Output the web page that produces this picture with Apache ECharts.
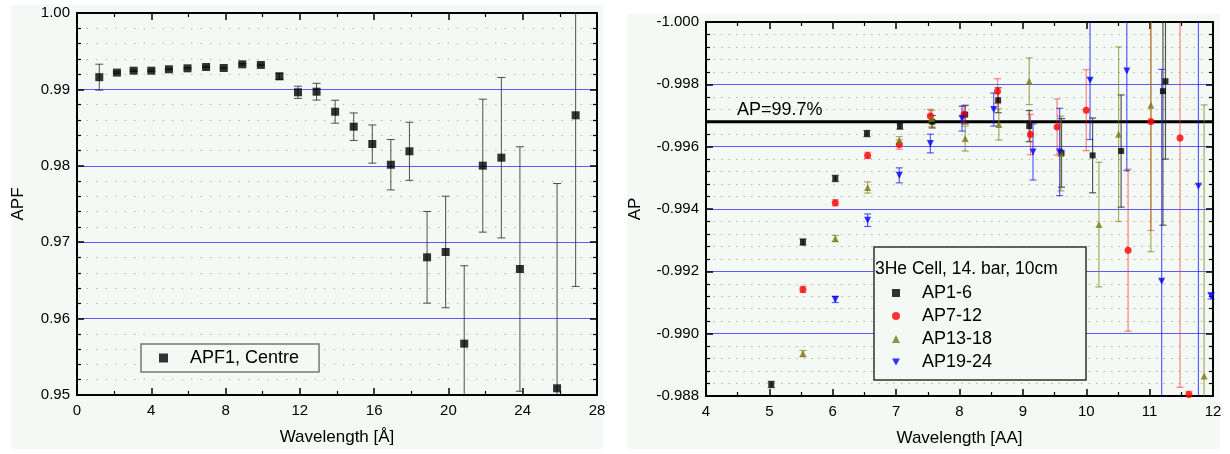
<!DOCTYPE html>
<html>
<head>
<meta charset="utf-8">
<script src="https://cdn.jsdelivr.net/npm/echarts@6/dist/echarts.min.js"></script>
<style>
html,body{margin:0;padding:0;background:#fff;}
#c{width:1230px;height:454px;}
</style>
</head>
<body>
<div id="c"></div>
<script>
// ---------- Left panel data: APF1, Centre ----------
const apfX = [1.2, 2.15, 3.05, 4.0, 4.95, 5.95, 6.95, 7.9, 8.9, 9.9, 10.9, 11.9, 12.9, 13.9, 14.9, 15.9, 16.9, 17.9, 18.85, 19.85, 20.85, 21.85, 22.85, 23.85, 25.85, 26.85];
const apfY = [0.9916, 0.9922, 0.99245, 0.99245, 0.99263, 0.99276, 0.99293, 0.9928, 0.99328, 0.9932, 0.99171, 0.98962, 0.9897, 0.98708, 0.98512, 0.98285, 0.98014, 0.9819, 0.96802, 0.96872, 0.95672, 0.98002, 0.98106, 0.96649, 0.95088, 0.98661];
const apfErr = [0.0017, 0.0001, 0.0001, 0.0001, 0.0001, 0.0001, 0.0001, 0.0001, 0.0001, 0.0001, 0.0004, 0.0008, 0.0011, 0.0015, 0.0018, 0.0025, 0.0033, 0.0038, 0.006, 0.0073, 0.0102, 0.0087, 0.0105, 0.016, 0.0268, 0.0224];

// ---------- Right panel data ----------
const ap1X = [5.03, 5.53, 6.04, 6.54, 7.06, 7.57, 8.09, 8.61, 9.1, 9.61, 10.1, 10.55, 11.21, 11.25];
const ap1Y = [-0.98837, -0.99294, -0.99498, -0.99642, -0.99666, -0.9968, -0.99703, -0.99749, -0.99666, -0.9958, -0.99572, -0.99586, -0.99778, -0.9981];
const ap1Err = [0.0001, 0.0001, 0.0001, 0.0001, 0.0001, 0.0002, 0.0003, 0.0004, 0.0005, 0.0011, 0.0012, 0.0018, 0.0043, 0.0025];

const ap7X = [5.53, 6.04, 6.55, 7.05, 7.54, 8.07, 8.6, 9.12, 9.54, 10.0, 10.66, 11.02, 11.48, 11.62];
const ap7Y = [-0.99142, -0.9942, -0.99572, -0.99607, -0.99698, -0.99703, -0.99778, -0.99639, -0.99663, -0.99717, -0.99268, -0.99681, -0.99628, -0.98805];
const ap7Err = [0.0001, 0.0001, 0.0001, 0.00015, 0.00022, 0.00027, 0.0004, 0.00065, 0.0009, 0.0013, 0.0026, 0.0035, 0.008, 0.0001];

const ap13X = [5.53, 6.04, 6.55, 7.05, 7.56, 8.09, 8.62, 9.1, 9.6, 10.2, 10.51, 11.02, 11.86];
const ap13Y = [-0.98936, -0.99305, -0.99469, -0.9962, -0.9969, -0.99626, -0.99671, -0.9981, -0.99578, -0.9935, -0.9964, -0.99733, -0.98864];
const ap13Err = [0.0001, 0.0001, 0.00018, 0.00012, 0.00026, 0.0004, 0.0005, 0.00075, 0.0012, 0.002, 0.0028, 0.0047, 0.0087];

const ap19X = [6.04, 6.55, 7.05, 7.54, 8.04, 8.54, 9.16, 9.58, 10.06, 10.64, 11.19, 11.77, 11.97];
const ap19Y = [-0.9911, -0.99364, -0.99508, -0.9961, -0.9969, -0.99719, -0.99583, -0.99583, -0.99813, -0.99843, -0.99168, -0.99473, -0.99121];
const ap19Err = [0.0001, 0.0002, 0.00024, 0.0003, 0.0004, 0.00053, 0.0009, 0.0014, 0.0019, 0.0032, 0.0068, 0.008, 0.0001];

// AP reference level line
const apLineX = [4, 12];
const apLineY = [-0.9968, -0.9968];
const apLevelLabel = 'AP=99.7%';
const leftLegend = 'APF1, Centre';
const rightLegendTitle = '3He Cell, 14. bar, 10cm';

// ---------- helpers ----------
const FONT = "'Liberation Sans', Arial, sans-serif";
const BG = '#f4f9f5';
const zip = (xs, ys) => xs.map((x, i) => [x, ys[i]]);
const zip3 = (xs, ys, es) => xs.map((x, i) => [x, ys[i], es[i]]);

function errRender(lo, hi, color, capHalf, width, opacity) {
  return function (params, api) {
    const x = api.value(0), y = api.value(1), e = api.value(2);
    const a = y - e, b = y + e;
    const ca = Math.max(a, lo), cb = Math.min(b, hi);
    const p1 = api.coord([x, ca]), p2 = api.coord([x, cb]);
    const st = { stroke: color, lineWidth: width, opacity: opacity };
    const ch = [{ type: 'line', shape: { x1: p1[0], y1: p1[1], x2: p2[0], y2: p2[1] }, style: st }];
    if (a >= lo) ch.push({ type: 'line', shape: { x1: p1[0] - capHalf, y1: p1[1], x2: p1[0] + capHalf, y2: p1[1] }, style: st });
    if (b <= hi) ch.push({ type: 'line', shape: { x1: p2[0] - capHalf, y1: p2[1], x2: p2[0] + capHalf, y2: p2[1] }, style: st });
    return { type: 'group', children: ch };
  };
}

function xAx(grid, min, max, interval, pos, showLabels, name) {
  return {
    type: 'value', gridIndex: grid, min: min, max: max, interval: interval, position: pos,
    name: name || '', nameLocation: 'middle', nameGap: 34,
    nameTextStyle: { fontSize: 17, color: '#000', fontFamily: FONT },
    axisLine: { show: true, onZero: false, lineStyle: { color: '#000', width: 2 } },
    axisTick: { show: true, inside: true, length: 7, lineStyle: { color: '#000', width: 1.5 } },
    minorTick: { show: true, splitNumber: 2, length: 4, lineStyle: { color: '#000', width: 1.2 } },
    axisLabel: { show: showLabels, fontSize: 15, color: '#000', fontFamily: FONT, margin: 8 },
    splitLine: { show: false }
  };
}

function yAx(grid, min, max, interval, pos, showLabels, name, nameGap, decimals, inverse, splitColor, minorColor, minorDash) {
  return {
    type: 'value', gridIndex: grid, min: min, max: max, interval: interval, position: pos, inverse: inverse,
    name: name || '', nameLocation: 'middle', nameGap: nameGap,
    nameTextStyle: { fontSize: 17, color: '#000', fontFamily: FONT },
    axisLine: { show: true, onZero: false, lineStyle: { color: '#000', width: 2 } },
    axisTick: { show: true, inside: true, length: 7, lineStyle: { color: '#000', width: 1.5 } },
    minorTick: { show: true, splitNumber: 5, length: 4, lineStyle: { color: '#000', width: 1.2 } },
    axisLabel: { show: showLabels, fontSize: 15, color: '#000', fontFamily: FONT, margin: 7,
      formatter: v => v.toFixed(decimals) },
    splitLine: { show: showLabels, lineStyle: { color: splitColor, width: 1 } },
    minorSplitLine: { show: showLabels, lineStyle: { color: minorColor, width: 1, type: minorDash } }
  };
}

const downTri = 'path://M0,0L10,0L5,9Z';

const chart = echarts.init(document.getElementById('c'), null, { renderer: 'canvas' });
const baseGraphic = [
  { id: 'bgL', type: 'rect', z: -100, shape: { x: 11, y: 5, width: 592, height: 444 }, style: { fill: BG } },
  { id: 'bgR', type: 'rect', z: -100, shape: { x: 627, y: 14, width: 593, height: 435 }, style: { fill: BG } },
  { id: 'legBox', type: 'rect', z: 50, shape: { x: 874, y: 247, width: 212, height: 133 }, style: { fill: BG, stroke: '#333322', lineWidth: 1.5 } },
  { id: 'legTitle', type: 'text', z: 51, x: 875, y: 269, style: { text: rightLegendTitle, fill: '#000', font: "17.5px 'Liberation Sans', Arial, sans-serif", textVerticalAlign: 'middle' } }
];
const option = {
  animation: false,
  backgroundColor: '#ffffff',
  textStyle: { fontFamily: FONT },
  graphic: baseGraphic,
  grid: [
    { left: 77, top: 13, width: 520, height: 382 },
    { left: 706, top: 22, width: 507, height: 374 }
  ],
  legend: [
    {
      data: [{ name: leftLegend, icon: 'rect' }],
      left: 141, top: 344, orient: 'horizontal', z: 60,
      padding: [5, 20, 5, 18], backgroundColor: BG, borderColor: '#777', borderWidth: 1.5,
      itemWidth: 9, itemHeight: 9, selectedMode: false,
      textStyle: { fontSize: 18, color: '#000', fontFamily: FONT, lineHeight: 18, padding: [0, 0, 0, 17] }
    },
    {
      data: [
        { name: 'AP1-6', icon: 'rect' },
        { name: 'AP7-12', icon: 'circle' },
        { name: 'AP13-18', icon: 'triangle' },
        { name: 'AP19-24', icon: downTri }
      ],
      left: 892, top: 284, orient: 'vertical', z: 60, padding: 0,
      itemGap: 5, itemWidth: 8, itemHeight: 8, selectedMode: false,
      textStyle: { fontSize: 18, color: '#000', fontFamily: FONT, lineHeight: 18, padding: [0, 0, 0, 17] }
    }
  ],
  xAxis: [
    xAx(0, 0, 28, 4, 'bottom', true, 'Wavelength [Å]'),
    xAx(0, 0, 28, 4, 'top', false),
    xAx(1, 4, 12, 1, 'bottom', true, 'Wavelength [AA]'),
    xAx(1, 4, 12, 1, 'top', false)
  ],
  yAxis: [
    yAx(0, 0.95, 1.0, 0.01, 'left', true, 'APF', 50, 2, false, '#5a5aff', '#88dd88', [1.5, 8]),
    yAx(0, 0.95, 1.0, 0.01, 'right', false, '', 50, 2, false),
    yAx(1, -1.0, -0.988, 0.002, 'left', true, 'AP', 62, 3, true, '#5a5aff', '#b8b88a', [1.5, 6]),
    yAx(1, -1.0, -0.988, 0.002, 'right', false, '', 50, 3, true)
  ],
  series: [
    // left panel
    { type: 'custom', name: 'apfErr', xAxisIndex: 0, yAxisIndex: 0, z: 3, silent: true,
      renderItem: errRender(0.95, 1.0, '#333', 4, 1, 0.85), data: zip3(apfX, apfY, apfErr) },
    { type: 'scatter', name: leftLegend, xAxisIndex: 0, yAxisIndex: 0, z: 4,
      symbol: 'rect', symbolSize: 8, itemStyle: { color: '#000' }, data: zip(apfX, apfY) },

    // AP reference line
    { type: 'line', name: 'APlevel', xAxisIndex: 2, yAxisIndex: 2, z: 2, silent: true,
      symbol: 'none', lineStyle: { color: '#000', width: 3 }, data: zip(apLineX, apLineY) },

    // right panel error bars
    { type: 'custom', name: 'e1', xAxisIndex: 2, yAxisIndex: 2, z: 3, silent: true,
      renderItem: errRender(-1.0, -0.988, '#222', 3.5, 1.2, 0.75), data: zip3(ap1X, ap1Y, ap1Err) },
    { type: 'custom', name: 'e7', xAxisIndex: 2, yAxisIndex: 2, z: 3, silent: true,
      renderItem: errRender(-1.0, -0.988, '#ff2020', 3.5, 1.2, 0.55), data: zip3(ap7X, ap7Y, ap7Err) },
    { type: 'custom', name: 'e13', xAxisIndex: 2, yAxisIndex: 2, z: 3, silent: true,
      renderItem: errRender(-1.0, -0.988, '#808010', 3.5, 1.2, 0.65), data: zip3(ap13X, ap13Y, ap13Err) },
    { type: 'custom', name: 'e19', xAxisIndex: 2, yAxisIndex: 2, z: 3, silent: true,
      renderItem: errRender(-1.0, -0.988, '#1a1aff', 3.5, 1.2, 0.7), data: zip3(ap19X, ap19Y, ap19Err) },

    // right panel markers
    { type: 'scatter', name: 'AP1-6', xAxisIndex: 2, yAxisIndex: 2, z: 5,
      symbol: 'rect', symbolSize: 6, itemStyle: { color: '#000' }, data: zip(ap1X, ap1Y) },
    { type: 'scatter', name: 'AP7-12', xAxisIndex: 2, yAxisIndex: 2, z: 5,
      symbol: 'circle', symbolSize: 7, itemStyle: { color: '#ff0000' }, data: zip(ap7X, ap7Y) },
    { type: 'scatter', name: 'AP13-18', xAxisIndex: 2, yAxisIndex: 2, z: 5,
      symbol: 'triangle', symbolSize: 7, itemStyle: { color: '#7a7a10' }, data: zip(ap13X, ap13Y) },
    { type: 'scatter', name: 'AP19-24', xAxisIndex: 2, yAxisIndex: 2, z: 5,
      symbol: downTri, symbolSize: 7, itemStyle: { color: '#0000ff' }, data: zip(ap19X, ap19Y) }
  ]
};
chart.setOption(option);

// place the AP level label just above the reference line, via the axis scale
const pt = chart.convertToPixel({ xAxisIndex: 2, yAxisIndex: 2 }, [apLineX[0], apLineY[0]]);
chart.setOption({
  graphic: baseGraphic.concat([
    { id: 'apLabel', type: 'text', z: 60, x: pt[0] + 31, y: pt[1] - 3,
      style: { text: apLevelLabel, fill: '#000', font: "18px 'Liberation Sans', Arial, sans-serif", textVerticalAlign: 'bottom' } }
  ])
});
</script>
</body>
</html>
